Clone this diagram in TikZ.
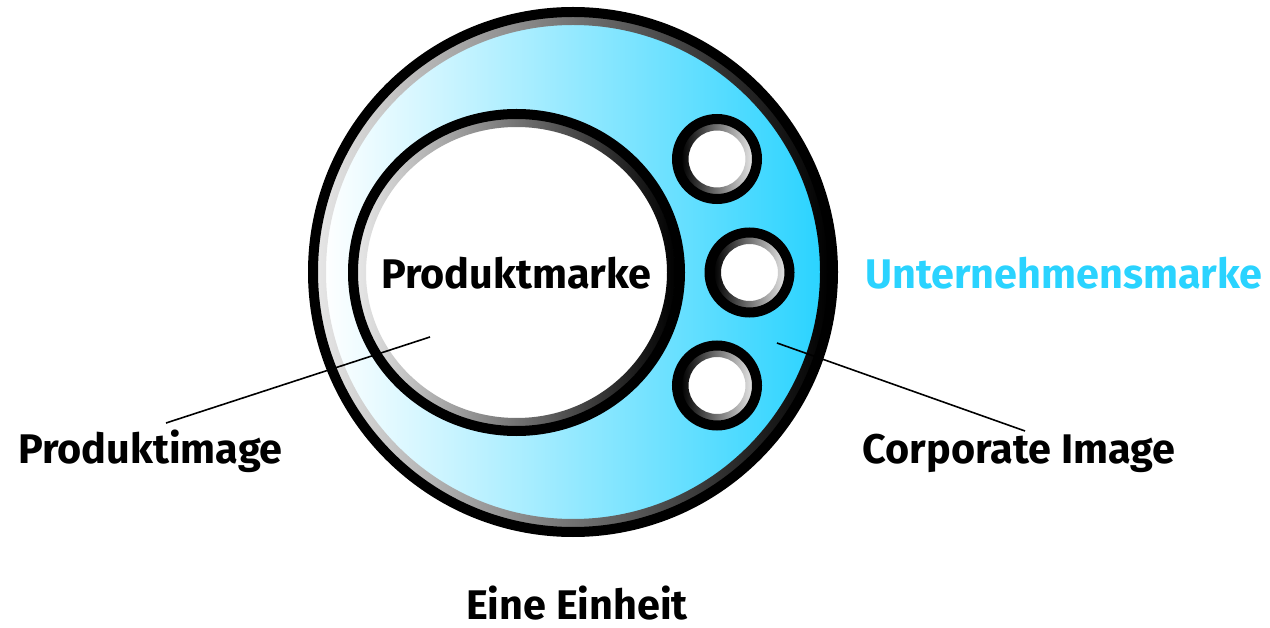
\documentclass[tikz,border=0pt]{standalone}
\usepackage{fontspec}
\setmainfont{Fira Sans}
\definecolor{cy}{HTML}{2AD3FF}
\definecolor{ringlight}{HTML}{E6E6E6}
\begin{document}
\begin{tikzpicture}[x=1pt,y=-1pt,
  lbl/.style={font=\bfseries\fontsize{41.4}{48}\selectfont, inner sep=0pt, anchor=base},
  lead/.style={line width=1.6pt, black},
  border/.style={draw=black, line width=10pt}]
\useasboundingbox (0,0) rectangle (1270,628);
% outer circle
\coordinate (oc) at (573,272);
\fill[left color=white, right color=cy] (oc) circle[radius=250];
\path[even odd rule, left color=ringlight, right color=black] (oc) circle[radius=256] (oc) circle[radius=247];
\draw[border] (oc) circle[radius=260];
% inner ellipse
\coordinate (ic) at (516.5,272.5);
\fill[white] (ic) ellipse[x radius=152, y radius=147];
\path[even odd rule, left color=ringlight, right color=black] (ic) ellipse[x radius=159, y radius=154] (ic) ellipse[x radius=150.5, y radius=145.5];
\draw[border] (ic) ellipse[x radius=163.5, y radius=158.5];
% small circles
\foreach \n/\cx/\cy in {s1/717/159, s2/749.5/272.5, s3/717/385.5}{
  \coordinate (\n) at (\cx,\cy);
  \fill[white] (\n) circle[radius=30];
  \path[even odd rule, left color=black, right color=ringlight] (\n) circle[radius=36] (\n) circle[radius=28.5];
  \draw[border] (\n) circle[radius=40];
}
% labels
\node[lbl] (pm) at (516.5,289) {Produktmarke};
\node[lbl, text=cy] (um) at (1064,289) {Unternehmensmarke};
\node[lbl] (ci) at (1019,463) {Corporate Image};
\node[lbl] (pi) at (150.5,463) {Produktimage};
\node[lbl] (ee) at (577,619) {Eine Einheit};
% leader lines
\coordinate (p1) at (430,337);
\coordinate (p1e) at (166,423);
\coordinate (p2) at (777,343);
\coordinate (p2e) at (1025,431);
\draw[lead] (p1) -- (p1e);
\draw[lead] (p2) -- (p2e);
\end{tikzpicture}
\end{document}
